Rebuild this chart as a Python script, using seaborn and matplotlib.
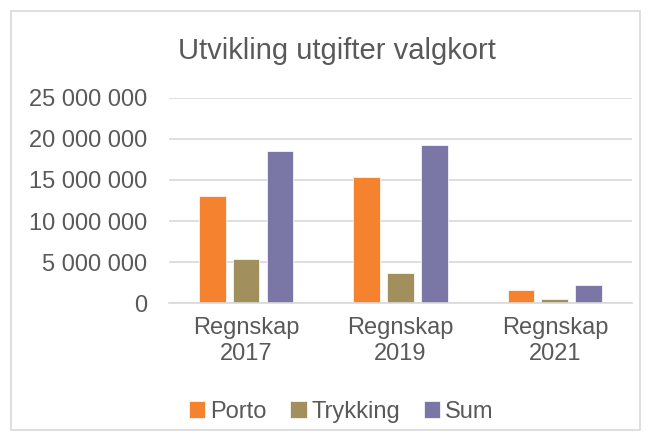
import pandas as pd
import matplotlib
matplotlib.use("Agg")
import matplotlib.pyplot as plt
import matplotlib.ticker as mticker
from matplotlib.patches import Rectangle
import seaborn as sns

# data
categories = ["Regnskap\n2017", "Regnskap\n2019", "Regnskap\n2021"]
porto = [13100000, 15400000, 1600000]
trykking = [5330000, 3700000, 480000]
total = [18560000, 19200000, 2180000]
series = ["Porto", "Trykking", "Sum"]
colors = ["#F4822F", "#A28F5E", "#7A76A6"]

df = pd.DataFrame({
    "kategori": categories * 3,
    "serie": [s for s in series for _ in categories],
    "verdi": porto + trykking + total,
})

sns.set_style("white")
plt.rcParams["font.family"] = ["Liberation Sans", "DejaVu Sans"]
text_color = "#595959"

fig, ax = plt.subplots(figsize=(6.51, 4.41), dpi=100)
fig.subplots_adjust(left=0.2596, right=0.9708, bottom=0.3122, top=0.7785)

sns.barplot(data=df, x="kategori", y="verdi", hue="serie", palette=colors,
            saturation=1, width=0.66, gap=0.215, ax=ax,
            edgecolor="white", linewidth=0.5)

ax.set_ylim(0, 25000000)
ax.yaxis.set_major_locator(mticker.MultipleLocator(5000000))
ax.yaxis.set_major_formatter(mticker.FuncFormatter(lambda v, p: "{:,.0f}".format(v).replace(",", " ")))
ax.grid(axis="y", color="#D9D9D9", linewidth=1.2)
ax.set_axisbelow(True)
for s in ["top", "right", "left"]:
    ax.spines[s].set_visible(False)
ax.spines["bottom"].set_color("#D9D9D9")
ax.spines["bottom"].set_linewidth(1.2)
ax.tick_params(axis="y", length=0, pad=16, labelsize=17, labelcolor=text_color)
ax.tick_params(axis="x", length=0, pad=10, labelsize=17, labelcolor=text_color)
ax.set_xlabel("")
ax.set_ylabel("")

fig.text(0.518, 0.885, "Utvikling utgifter valgkort", ha="center", va="center",
         fontsize=21, color=text_color)

handles, labels = ax.get_legend_handles_labels()
ax.legend_.remove()
fig.legend(handles, labels, loc="center", bbox_to_anchor=(0.524, 0.066), ncol=3,
           frameon=False, fontsize=17, labelcolor=text_color, handlelength=0.7,
           handleheight=0.7, handletextpad=0.2, columnspacing=1.0)

# chart border
fig.patches.append(Rectangle((11 / 651, 11 / 441), 629 / 651, 419 / 441,
                             transform=fig.transFigure, fill=False,
                             edgecolor="#D9D9D9", linewidth=1.2))

fig.savefig("out.png", dpi=100)
